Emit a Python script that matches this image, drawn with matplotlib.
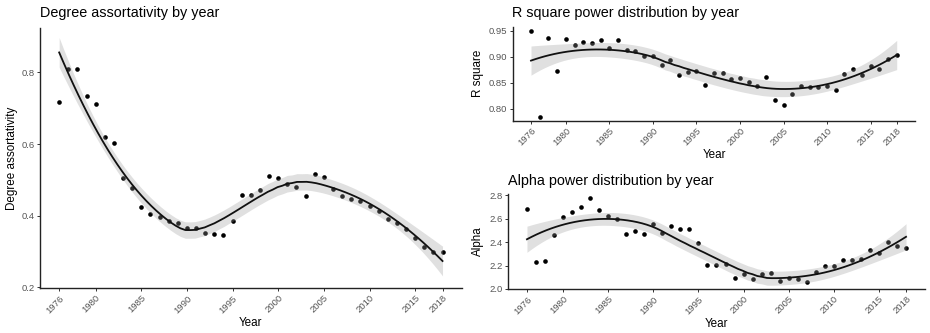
import numpy as np
import matplotlib
matplotlib.use("Agg")
import matplotlib.pyplot as plt

plt.rcParams['font.family'] = ['Liberation Sans', 'DejaVu Sans']

years = list(range(1976, 2019))
xticks = [1976, 1980, 1985, 1990, 1995, 2000, 2005, 2010, 2015, 2018]

assortativity = [0.717, 0.810, 0.810, 0.735, 0.713, 0.619, 0.602, 0.505, 0.477, 0.424,
                 0.404, 0.397, 0.386, 0.380, 0.365, 0.365, 0.352, 0.349, 0.345, 0.384,
                 0.458, 0.458, 0.473, 0.511, 0.504, 0.488, 0.479, 0.454, 0.515, 0.508,
                 0.475, 0.456, 0.447, 0.441, 0.428, 0.414, 0.390, 0.379, 0.362, 0.339,
                 0.313, 0.298, 0.299]

rsquare = [0.950, 0.785, 0.937, 0.872, 0.935, 0.923, 0.929, 0.926, 0.932, 0.918,
           0.932, 0.914, 0.912, 0.901, 0.901, 0.884, 0.894, 0.865, 0.871, 0.873,
           0.847, 0.870, 0.870, 0.858, 0.860, 0.851, 0.844, 0.861, 0.817, 0.808,
           0.829, 0.845, 0.843, 0.843, 0.845, 0.837, 0.867, 0.876, 0.865, 0.883,
           0.876, 0.896, 0.904]

alpha = [2.680, 2.229, 2.237, 2.457, 2.614, 2.657, 2.703, 2.774, 2.674, 2.626,
         2.594, 2.469, 2.494, 2.466, 2.551, 2.480, 2.534, 2.511, 2.511, 2.391,
         2.203, 2.203, 2.211, 2.094, 2.126, 2.086, 2.129, 2.134, 2.066, 2.097,
         2.083, 2.060, 2.143, 2.194, 2.197, 2.246, 2.246, 2.257, 2.334, 2.311,
         2.403, 2.363, 2.346]


def loess(x, y, span, grid, degree=2):
    x = np.asarray(x, float)
    y = np.asarray(y, float)
    n = len(x)
    q = int(np.floor(n * span))

    def weights_row(x0):
        d = np.abs(x - x0)
        h = np.sort(d)[q - 1] * max(1.0, span) + 1e-12
        w = np.clip(1 - (d / h) ** 3, 0, None) ** 3
        X = np.vander(x - x0, degree + 1, increasing=True)
        W = np.diag(w)
        A = X.T @ W @ X
        L = np.linalg.solve(A, X.T @ W)
        return L[0]

    Lfit = np.array([weights_row(x0) for x0 in x])
    resid = y - Lfit @ y
    d1 = n - 2 * np.trace(Lfit) + np.trace(Lfit @ Lfit.T)
    sigma = np.sqrt(np.sum(resid ** 2) / d1)
    Lg = np.array([weights_row(x0) for x0 in grid])
    fit = Lg @ y
    se = sigma * np.sqrt(np.sum(Lg ** 2, axis=1))
    tval = 2.02
    return fit, fit - tval * se, fit + tval * se


def draw(ax, y, span, ylim, yticks, yfmt):
    x = np.array(years, float)
    grid = np.linspace(x.min(), x.max(), 80)
    fit, lo, hi = loess(x, y, span, grid)
    ax.scatter(x, y, s=11, color='black', zorder=2, linewidths=0)
    ax.fill_between(grid, lo, hi, color='#999999', alpha=0.3, linewidth=0, zorder=3)
    ax.plot(grid, fit, color='#111111', lw=1.3, zorder=4)
    ax.set_xlim(1973.9, 2020.1)
    ax.set_ylim(*ylim)
    ax.set_xticks(xticks)
    ax.set_xticklabels([str(t) for t in xticks], rotation=45, ha='right',
                       rotation_mode='anchor')
    ax.set_yticks(yticks)
    ax.set_yticklabels([yfmt.format(v) for v in yticks])
    for s in ['top', 'right']:
        ax.spines[s].set_visible(False)
    for s in ['left', 'bottom']:
        ax.spines[s].set_linewidth(1.0)
        ax.spines[s].set_color('#222222')
    ax.tick_params(axis='both', length=2.5, width=0.7, color='#333333',
                   labelcolor='#555555', labelsize=6.8, pad=1.5)


fig = plt.figure(figsize=(9.3, 3.33), dpi=100)
W, H = 930, 333


def box(l, r, t, b):
    return [l / W, 1 - b / H, (r - l) / W, (b - t) / H]


ax1 = fig.add_axes(box(40, 461.7, 27.7, 288))
draw(ax1, assortativity, 0.68, (0.198, 0.925), [0.2, 0.4, 0.6, 0.8], '{:.1f}')
ax2 = fig.add_axes(box(512.7, 915, 26.7, 120.7))
draw(ax2, rsquare, 0.75, (0.7775, 0.958), [0.80, 0.85, 0.90, 0.95], '{:.2f}')
ax3 = fig.add_axes(box(508, 925, 194, 289))
draw(ax3, alpha, 0.75, (2.0, 2.81), [2.0, 2.2, 2.4, 2.6, 2.8], '{:.1f}')

tkw = dict(fontsize=10.4, color='black', va='center', ha='left')
fig.text(40 / W, 1 - 13 / H, 'Degree assortativity by year', **tkw)
fig.text(512 / W, 1 - 13 / H, 'R square power distribution by year', **tkw)
fig.text(508 / W, 1 - 181 / H, 'Alpha power distribution by year', **tkw)

lkw = dict(fontsize=8.4, color='black', va='center', ha='center')
fig.text(250 / W, 1 - 323 / H, 'Year', **lkw)
fig.text(714 / W, 1 - 155 / H, 'Year', **lkw)
fig.text(716 / W, 1 - 324 / H, 'Year', **lkw)
fig.text(12 / W, 1 - 158 / H, 'Degree assortativity', rotation=90, **lkw)
fig.text(478 / W, 1 - 73 / H, 'R square', rotation=90, **lkw)
fig.text(478 / W, 1 - 241 / H, 'Alpha', rotation=90, **lkw)

fig.savefig('out.png', dpi=100)
